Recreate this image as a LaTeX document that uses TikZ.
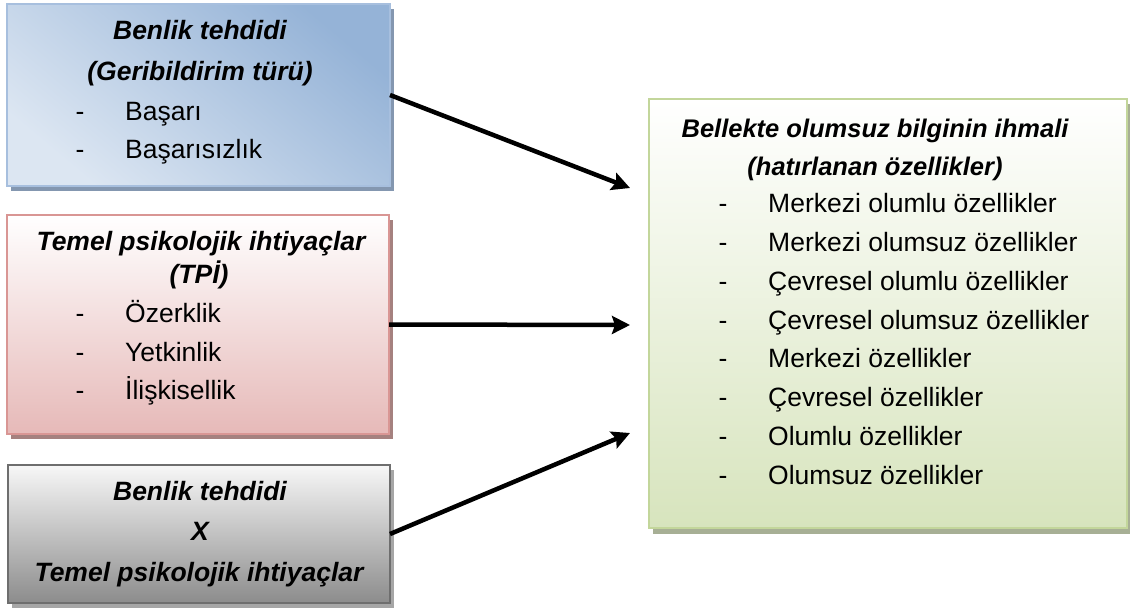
\documentclass[tikz,border=0pt]{standalone}
\usepackage{fontspec}
\setmainfont{Liberation Sans}
\usetikzlibrary{arrows.meta}
\definecolor{bluedark}{HTML}{95B3D7}
\definecolor{bluelight}{HTML}{DCE6F2}
\definecolor{blueborder}{HTML}{A7BFDE}
\definecolor{blueshadow}{HTML}{8497B0}
\definecolor{pinkdark}{HTML}{E6B9B8}
\definecolor{pinkborder}{HTML}{D99694}
\definecolor{pinkshadow}{HTML}{A5817F}
\definecolor{greydark}{HTML}{8C8C8C}
\definecolor{greylight}{HTML}{F7F7F7}
\definecolor{greyborder}{HTML}{6E6E6E}
\definecolor{greyshadow}{HTML}{A6A6A6}
\definecolor{greendark}{HTML}{D7E4BD}
\definecolor{greenborder}{HTML}{C3D69B}
\definecolor{greenshadow}{HTML}{A7AF95}
\begin{document}
\begin{tikzpicture}[x=1pt,y=-1pt,
  box/.style={draw, line width=2pt, inner sep=0pt, outer sep=0pt},
  hd/.style={font=\fontsize{26.5}{31}\selectfont\bfseries\itshape, anchor=base, inner sep=0pt},
  hdg/.style={font=\fontsize{25.5}{30}\selectfont\bfseries\itshape, anchor=base, inner sep=0pt},
  item/.style={font=\fontsize{26.5}{31}\selectfont, anchor=base west, inner sep=0pt},
  dsh/.style={font=\fontsize{26.5}{31}\selectfont, anchor=base, inner sep=0pt},
  arr/.style={line width=4.5pt, -{Stealth[length=18pt,width=18pt,inset=3pt]}}]
\useasboundingbox (0,0) rectangle (1130,608);
% shadows
\fill[blueshadow] (11,9) rectangle (394,191);
\fill[pinkshadow] (11,220) rectangle (393,439);
\fill[greyshadow] (12,470) rectangle (394,608);
\fill[greenshadow] (653,104) rectangle (1130,534);
% boxes
\node[box, draw=blueborder, top color=bluedark, bottom color=bluelight, shading angle=-40,
      minimum width=383pt, minimum height=182pt] (blue) at (198.5,95) {};
\node[box, draw=pinkborder, top color=white, bottom color=pinkdark,
      minimum width=382pt, minimum height=219pt] (pink) at (198,324.5) {};
\node[box, draw=greyborder, top color=greylight, bottom color=greydark,
      minimum width=382pt, minimum height=138pt] (grey) at (199,534) {};
\node[box, draw=greenborder, top color=white, bottom color=greendark,
      minimum width=478pt, minimum height=429pt] (green) at (888,313.5) {};
% blue text
\node[hd] (b0) at (200,39.5) {Benlik tehdidi};
\node[hd] (b00) at (200,80) {(Geribildirim türü)};
\node[dsh] (b1d) at (80,120.5) {-};
\node[item] (b1) at (125,120.5) {Başarı};
\node[dsh] (b2d) at (80,158.5) {-};
\node[item] (b2) at (125,158.5) {Başarısızlık};
% pink text
\node[hd] (p0) at (201,250) {Temel psikolojik ihtiyaçlar};
\node[hd] (p00) at (199,283) {(TPİ)};
\node[dsh] (p1d) at (80,322) {-};
\node[item] (p1) at (125,322) {Özerklik};
\node[dsh] (p2d) at (80,361) {-};
\node[item] (p2) at (125,361) {Yetkinlik};
\node[dsh] (p3d) at (80,399.5) {-};
\node[item] (p3) at (125,399.5) {İlişkisellik};
% grey text
\node[hd] (g0) at (200,500.5) {Benlik tehdidi};
\node[hd] (g1) at (200,540.5) {X};
\node[hd] (g2) at (199,581) {Temel psikolojik ihtiyaçlar};
% green text
\node[hdg] (r0) at (875,137) {Bellekte olumsuz bilginin ihmali};
\node[hdg] (r00) at (875,175) {(hatırlanan özellikler)};
\node[dsh] (r1d) at (723,212.5) {-};
\node[item] (r1) at (768,212.5) {Merkezi olumlu özellikler};
\node[dsh] (r2d) at (723,251.5) {-};
\node[item] (r2) at (768,251.5) {Merkezi olumsuz özellikler};
\node[dsh] (r3d) at (723,290.5) {-};
\node[item] (r3) at (768,290.5) {Çevresel olumlu özellikler};
\node[dsh] (r4d) at (723,329.5) {-};
\node[item] (r4) at (768,329.5) {Çevresel olumsuz özellikler};
\node[dsh] (r5d) at (723,367.5) {-};
\node[item] (r5) at (768,367.5) {Merkezi özellikler};
\node[dsh] (r6d) at (723,406.5) {-};
\node[item] (r6) at (768,406.5) {Çevresel özellikler};
\node[dsh] (r7d) at (723,445.5) {-};
\node[item] (r7) at (768,445.5) {Olumlu özellikler};
\node[dsh] (r8d) at (723,484) {-};
\node[item] (r8) at (768,484) {Olumsuz özellikler};
% arrows
\coordinate (e1) at (630,188);
\coordinate (e2) at (630,325);
\coordinate (e3) at (630,433);
\draw[arr] (blue.east) -- (e1);
\draw[arr] (pink.east) -- (e2);
\draw[arr] (grey.east) -- (e3);
\end{tikzpicture}
\end{document}
